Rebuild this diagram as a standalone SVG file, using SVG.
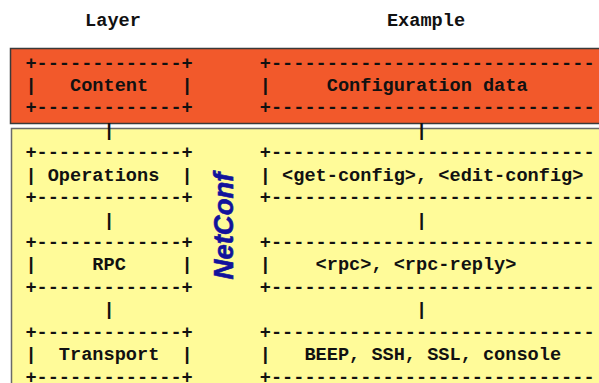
<svg xmlns="http://www.w3.org/2000/svg" width="599" height="383" viewBox="0 0 599 383" xml:space="preserve">
<style>
  .t { font-family: "Liberation Mono", "Courier New", monospace; font-weight: bold; font-size: 18.6px; fill: #111; white-space: pre; }
  .hdr { text-anchor: middle; }
  .band-content { fill: #F2592B; stroke: #3a3a3a; stroke-width: 1.5; }
  .band-netconf { fill: #FFFB99; stroke: #6a6a6a; stroke-width: 1.5; }
  .nc { font-family: "Liberation Sans", Arial, sans-serif; font-weight: bold; font-style: italic; font-size: 27.5px; fill: #12129c; text-anchor: middle; stroke: #12129c; stroke-width: 0.6; }
</style>
<rect width="599" height="383" fill="#ffffff"/>
<g id="headers">
  <text class="t hdr" x="113" y="26">Layer</text>
  <text class="t hdr" x="426" y="26">Example</text>
</g>
<g id="band-content-layer">
  <rect class="band-content" x="10.5" y="48.5" width="600" height="75"/>
</g>
<g id="band-netconf">
  <rect class="band-netconf" x="11.5" y="128.5" width="600" height="270"/>
  <text class="nc" transform="translate(233 226) rotate(-90)">NetConf</text>
</g>
<g id="connectors">
  <text class="t" x="103.5" y="135.8">|</text>
  <text class="t" x="416" y="135.8">|</text>
  <text class="t" x="103.5" y="225.5">|</text>
  <text class="t" x="416" y="225.5">|</text>
  <text class="t" x="103.5" y="315.2">|</text>
  <text class="t" x="416" y="315.2">|</text>
</g>
<g id="layer-content">
  <text class="t" x="25.4" y="68.5">+-------------+</text>
  <text class="t" x="25.4" y="90.9">|   Content   |</text>
  <text class="t" x="25.4" y="113.4">+-------------+</text>
</g>
<g id="example-content">
  <text class="t" x="259.8" y="68.5">+-----------------------------</text>
  <text class="t" x="259.8" y="90.9">|     Configuration data</text>
  <text class="t" x="259.8" y="113.4">+-----------------------------</text>
</g>
<g id="layer-operations">
  <text class="t" x="25.4" y="158.2">+-------------+</text>
  <text class="t" x="25.4" y="180.7">| Operations  |</text>
  <text class="t" x="25.4" y="203.1">+-------------+</text>
</g>
<g id="example-operations">
  <text class="t" x="259.8" y="158.2">+-----------------------------</text>
  <text class="t" x="259.8" y="180.7">| &lt;get-config&gt;, &lt;edit-config&gt;</text>
  <text class="t" x="259.8" y="203.1">+-----------------------------</text>
</g>
<g id="layer-rpc">
  <text class="t" x="25.4" y="247.9">+-------------+</text>
  <text class="t" x="25.4" y="270.4">|     RPC     |</text>
  <text class="t" x="25.4" y="292.8">+-------------+</text>
</g>
<g id="example-rpc">
  <text class="t" x="259.8" y="247.9">+-----------------------------</text>
  <text class="t" x="259.8" y="270.4">|    &lt;rpc&gt;, &lt;rpc-reply&gt;</text>
  <text class="t" x="259.8" y="292.8">+-----------------------------</text>
</g>
<g id="layer-transport">
  <text class="t" x="25.4" y="337.7">+-------------+</text>
  <text class="t" x="25.4" y="360.1">|  Transport  |</text>
  <text class="t" x="25.4" y="382.5">+-------------+</text>
</g>
<g id="example-transport">
  <text class="t" x="259.8" y="337.7">+-----------------------------</text>
  <text class="t" x="259.8" y="360.1">|   BEEP, SSH, SSL, console</text>
  <text class="t" x="259.8" y="382.5">+-----------------------------</text>
</g>
</svg>
